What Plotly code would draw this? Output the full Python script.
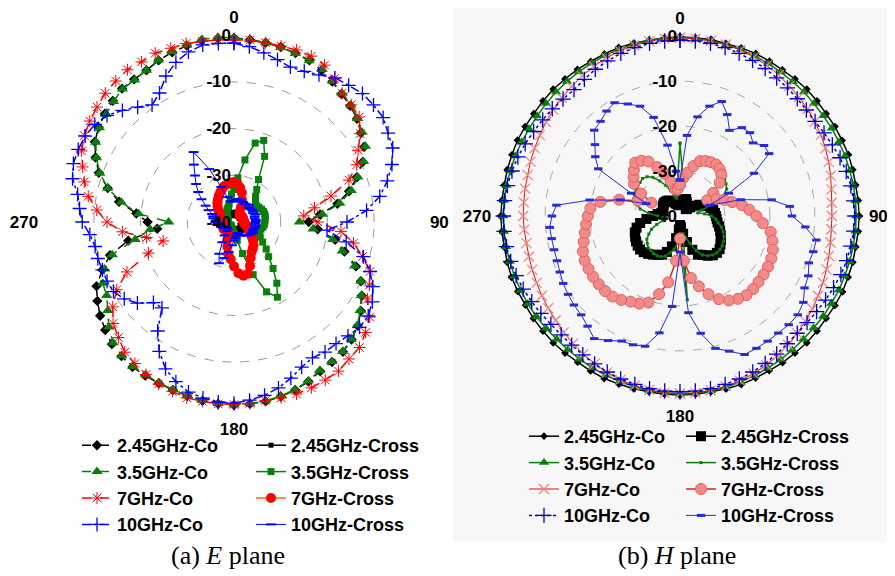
import plotly.graph_objects as go

# angles (deg) sampled every 5 degrees, 0 = top, clockwise
ANG = list(range(0, 360, 5))

# ---------------- E plane (dB) ----------------
E_co_245 = [-0.6, -0.8, -1.0, -1.2, -1.5, -1.8, -2.5, -3.3, -4.2, -4.8, -5.6, -6.8,
            -7.8, -9.6, -12.0, -14.5, -17.5, -21.5, -24.0, -22.0, -18.0, -15.5, -12.2, -10.0,
            -8.4, -6.8, -5.4, -4.4, -3.7, -3.4, -3.1, -2.3, -1.7, -1.3, -1.0, -0.9,
            -0.8, -0.9, -1.1, -1.4, -1.7, -1.9, -2.0, -2.1, -2.5, -3.0, -4.0, -5.0,
            -6.2, -7.5, -10.0, -12.5, -17.0, -23.5, -21.5, -19.0, -15.0, -12.0, -9.2, -7.3,
            -5.6, -4.6, -3.9, -3.3, -2.7, -2.7, -2.5, -1.8, -1.3, -0.9, -0.5, -0.5]
E_co_35 = [-0.5, -0.8, -1.0, -1.3, -1.6, -1.9, -2.3, -3.2, -4.0, -4.6, -5.5, -6.5,
           -7.5, -9.4, -11.8, -14.0, -17.0, -21.0, -26.0, -23.0, -18.5, -16.0, -12.5, -10.0,
           -8.5, -7.0, -5.5, -4.5, -3.8, -3.5, -3.3, -2.4, -1.8, -1.4, -1.1, -0.9,
           -0.8, -1.0, -1.2, -1.5, -1.8, -2.0, -2.2, -2.2, -2.6, -3.4, -5.0, -7.0,
           -8.5, -9.0, -10.5, -13.0, -18.5, -22.0, -26.0, -19.5, -15.5, -12.0, -9.4, -7.5,
           -5.8, -4.8, -4.2, -3.5, -2.8, -2.9, -2.5, -1.7, -1.2, -0.8, -0.3, -0.3]
E_co_7 = [-1.0, -0.9, -1.0, -1.0, -0.8, -0.8, -1.2, -2.5, -4.0, -4.5, -5.0, -7.0,
          -9.3, -11.0, -13.8, -18.5, -22.5, -25.0, -22.0, -17.0, -14.0, -11.5, -9.0, -8.0,
          -7.0, -4.5, -3.2, -2.0, -1.7, -1.0, -0.9, -0.8, -0.8, -1.0, -1.2, -1.0,
          -0.9, -0.9, -1.0, -1.0, -1.4, -1.7, -2.3, -3.0, -3.6, -5.0, -6.2, -8.3,
          -11.0, -14.7, -20.5, -24.3, -21.0, -16.0, -12.8, -10.5, -8.3, -6.8, -5.5, -4.0,
          -3.0, -2.3, -1.7, -1.0, -0.6, -0.2, -0.4, -0.1, -0.4, -0.4, -0.7, -0.9]
E_co_10 = [-1.7, -2.3, -3.2, -4.0, -4.7, -4.4, -3.6, -2.3, -1.8, -1.1, -1.0, -1.0,
           -1.9, -2.5, -4.0, -6.0, -8.3, -11.5, -15.8, -20.0, -15.6, -11.3, -9.0, -7.2,
           -5.8, -4.9, -4.9, -5.5, -6.0, -6.0, -6.4, -5.7, -4.4, -3.2, -2.3, -1.7,
           -1.2, -1.3, -1.7, -2.3, -3.6, -5.3, -8.0, -11.5, -16.0, -15.6, -13.0, -11.3,
           -10.2, -10.0, -10.0, -9.8, -9.8, -9.0, -7.5, -6.8, -6.0, -4.2, -3.4, -3.2,
           -3.2, -3.6, -4.5, -6.2, -7.9, -9.4, -8.1, -5.5, -3.6, -2.3, -1.5, -1.6]
E_x_245 = [-38.0, -38.5, -38.2, -37.8, -38.0, -38.4, -38.6, -38.2, -37.9, -38.1, -38.5, -38.7,
           -38.3, -38.0, -37.6, -37.8, -38.2, -38.5, -38.4, -38.0, -37.7, -37.9, -38.3, -38.6,
           -38.4, -38.1, -37.8, -37.5, -37.6, -38.0, -38.3, -38.5, -38.2, -37.9, -37.7, -38.0,
           -38.3, -38.6, -38.4, -38.1, -37.8, -37.6, -37.9, -38.2, -38.5, -38.7, -38.4, -38.0,
           -37.7, -37.5, -37.8, -38.1, -38.4, -38.6, -38.3, -38.0, -37.8, -37.6, -37.9, -38.2,
           -38.5, -38.7, -38.4, -38.1, -37.9, -37.7, -38.0, -38.3, -38.6, -38.4, -38.1, -37.9]
E_x_35 = [-33.0, -30.5, -26.5, -22.5, -21.4, -24.5, -29.5, -31.5, -32.8, -33.5, -34.0, -34.0,
          -33.8, -33.5, -33.3, -33.2, -33.2, -33.3, -33.4, -33.5, -33.7, -34.0, -34.2, -34.0,
          -33.5, -32.5, -31.0, -29.5, -27.0, -24.0, -21.4, -23.5, -28.0, -33.0, -36.0, -37.0,
          -37.5, -38.0, -38.2, -38.5, -38.6, -38.4, -38.8, -39.0, -38.9, -38.7, -39.0, -38.8,
          -38.6, -38.8, -38.5, -38.3, -38.6, -38.4, -38.2, -38.5, -38.7, -38.4, -38.6, -38.3,
          -38.5, -38.2, -38.0, -37.8, -37.5, -37.4, -37.0, -36.8, -36.5, -36.0, -35.0, -34.0]
E_x_7 = [-31.5, -31.8, -32.5, -33.5, -35.0, -36.5, -37.5, -37.9, -38.1, -38.0, -37.9, -38.1,
         -38.0, -37.9, -38.0, -38.1, -37.9, -38.0, -37.8, -37.9, -37.5, -37.4, -37.0, -36.6,
         -36.0, -35.5, -35.0, -34.2, -33.5, -33.0, -32.5, -31.5, -30.0, -28.5, -28.3, -29.0,
         -30.5, -32.0, -33.0, -34.5, -36.0, -37.0, -37.5, -37.6, -37.4, -37.6, -37.5, -37.3,
         -37.6, -37.5, -37.4, -37.6, -37.5, -37.3, -37.5, -37.4, -37.2, -37.0, -36.8, -36.5,
         -36.5, -36.0, -35.5, -35.0, -34.5, -34.0, -33.5, -33.0, -32.5, -32.0, -31.8, -31.5]
E_x_10 = [-35.5, -35.2, -35.0, -35.2, -35.4, -35.3, -35.5, -35.4, -35.2, -35.5, -35.6, -35.4,
          -35.3, -35.5, -35.2, -35.4, -35.5, -35.3, -35.4, -35.5, -35.3, -35.4, -35.6, -35.5,
          -35.4, -35.6, -35.8, -36.0, -36.2, -36.5, -36.8, -37.0, -37.5, -37.4, -37.0, -36.5,
          -36.0, -35.0, -33.5, -32.0, -30.6, -32.5, -35.0, -36.5, -37.5, -38.0, -38.1, -37.9,
          -37.5, -37.4, -37.0, -37.1, -36.5, -36.6, -36.0, -36.1, -35.5, -35.4, -35.0, -34.0,
          -33.0, -31.5, -30.0, -28.5, -27.0, -25.0, -22.7, -27.5, -32.0, -34.5, -35.5, -35.6]

# ---------------- H plane (dB) ----------------
H_co_245 = [-0.1, -0.2, -0.1, -0.3, -0.2, -0.1, -0.2, -0.3, -0.2, -0.1, -0.2, -0.3,
            -0.2, -0.2, -0.1, -0.2, -0.3, -0.2, -0.1, -0.2, -0.3, -0.2, -0.2, -0.1,
            -0.2, -0.3, -0.2, -0.1, -0.2, -0.2, -0.3, -0.2, -0.1, -0.2, -0.3, -0.2,
            -0.1, -0.2, -0.3, -0.2, -0.2, -0.1, -0.2, -0.3, -0.2, -0.1, -0.2, -0.2,
            -0.3, -0.2, -0.1, -0.2, -0.3, -0.2, -0.1, -0.2, -0.3, -0.2, -0.2, -0.1,
            -0.2, -0.3, -0.2, -0.1, -0.2, -0.2, -0.3, -0.2, -0.1, -0.2, -0.3, -0.2]
H_co_35 = [-0.3, -0.3, -0.4, -0.5, -0.6, -0.7, -0.8, -0.9, -1.0, -1.0, -1.1, -1.1,
           -1.0, -1.0, -0.9, -0.9, -0.8, -0.8, -0.8, -0.8, -0.9, -0.9, -1.0, -1.0,
           -1.1, -1.1, -1.2, -1.2, -1.1, -1.0, -0.9, -0.8, -0.7, -0.6, -0.5, -0.4,
           -0.4, -0.5, -0.6, -0.7, -0.8, -0.9, -1.0, -1.1, -1.2, -1.2, -1.1, -1.0,
           -0.9, -0.9, -0.8, -0.8, -0.7, -0.7, -0.7, -0.7, -0.8, -0.9, -1.0, -1.1,
           -1.2, -1.2, -1.1, -1.0, -0.9, -0.8, -0.7, -0.6, -0.5, -0.4, -0.3, -0.3]
H_co_7 = [-0.3, -0.4, -0.4, -0.5, -0.7, -1.0, -1.3, -1.7, -2.2, -2.6, -3.0, -3.4,
          -3.8, -4.3, -4.8, -5.3, -5.8, -6.1, -6.2, -6.2, -6.0, -5.7, -5.3, -4.9,
          -4.5, -4.0, -3.6, -3.1, -2.6, -2.1, -1.7, -1.3, -1.0, -0.8, -0.6, -0.5,
          -0.5, -0.5, -0.7, -0.9, -1.2, -1.6, -2.0, -2.5, -3.0, -3.4, -3.9, -4.2,
          -4.5, -4.8, -5.0, -5.2, -5.3, -5.2, -5.1, -5.1, -5.0, -4.9, -4.6, -4.3,
          -4.0, -3.6, -3.2, -2.8, -2.4, -2.0, -1.6, -1.2, -0.9, -0.7, -0.5, -0.4]
H_co_10 = [-0.9, -0.9, -1.0, -1.2, -1.5, -1.8, -2.1, -2.5, -2.8, -3.1, -3.3, -3.3,
           -3.0, -2.6, -2.1, -1.7, -1.4, -1.2, -1.1, -1.2, -1.4, -1.6, -1.9, -2.3,
           -2.6, -2.9, -3.1, -3.1, -2.9, -2.5, -2.1, -1.7, -1.4, -1.2, -1.0, -0.9,
           -0.9, -0.9, -1.0, -1.2, -1.4, -1.7, -2.0, -2.3, -2.5, -2.6, -2.5, -2.2,
           -1.9, -1.5, -1.2, -1.0, -0.8, -0.7, -0.7, -0.8, -1.0, -1.3, -1.6, -2.0,
           -2.4, -2.7, -2.9, -3.2, -3.3, -2.9, -2.3, -1.9, -1.5, -1.2, -1.0, -0.9]
H_x_245 = [-37.5, -37.0, -36.5, -36.2, -36.0, -36.5, -37.0, -37.5, -38.0, -37.8, -37.0, -36.0,
           -35.0, -34.2, -33.5, -33.0, -32.5, -32.2, -32.0, -31.8, -31.5, -31.0, -30.5, -30.0,
           -29.5, -29.0, -28.5, -28.4, -28.6, -29.2, -30.0, -30.5, -32.0, -34.0, -36.0, -37.5,
           -38.0, -37.0, -35.0, -33.0, -31.5, -30.5, -30.0, -29.5, -29.0, -28.6, -28.4, -28.5,
           -28.7, -29.0, -29.3, -30.0, -31.0, -32.5, -34.0, -35.0, -35.8, -36.2, -36.0, -35.8,
           -35.6, -35.5, -35.4, -35.5, -35.6, -35.8, -36.2, -36.5, -37.0, -37.2, -37.5, -37.6]
H_x_35 = [-23.8, -32.0, -31.0, -29.0, -28.0, -27.0, -26.3, -25.8, -25.8, -26.0, -27.0, -27.5,
          -28.0, -29.5, -32.0, -35.0, -36.0, -34.5, -33.0, -32.0, -31.4, -30.5, -29.8, -29.2,
          -28.8, -28.5, -28.4, -28.4, -28.7, -29.2, -30.0, -31.5, -33.5, -35.0, -36.0, -21.3,
          -36.0, -34.0, -32.5, -31.5, -30.5, -30.0, -29.8, -29.8, -30.0, -30.0, -30.5, -31.0,
          -32.0, -33.0, -34.5, -36.0, -37.0, -36.5, -35.0, -33.0, -31.0, -30.0, -29.0, -28.9,
          -28.7, -28.5, -28.4, -28.2, -28.6, -29.5, -31.0, -32.5, -34.0, -35.5, -36.0, -33.0]
H_x_7 = [-33.0, -31.5, -30.2, -28.5, -27.0, -26.5, -26.2, -26.0, -26.3, -27.0, -28.5, -31.0,
         -33.0, -31.0, -29.5, -28.0, -26.0, -24.5, -23.0, -21.5, -19.5, -18.7, -18.0, -17.6,
         -17.4, -17.3, -17.2, -17.0, -17.0, -17.5, -18.3, -19.6, -21.5, -23.8, -26.0, -30.0,
         -35.0, -30.0, -25.0, -22.0, -19.5, -18.5, -18.0, -17.2, -16.6, -16.4, -16.4, -16.4,
         -16.5, -16.6, -17.0, -17.8, -18.5, -19.0, -19.5, -20.0, -22.0, -26.0, -30.0, -33.0,
         -30.0, -27.5, -26.5, -25.5, -24.5, -25.0, -26.0, -28.0, -30.0, -32.0, -34.0, -34.0]
H_x_10 = [-32.0, -22.0, -17.6, -14.7, -12.9, -15.1, -18.0, -16.0, -15.8, -17.0, -15.6, -15.8,
          -21.0, -28.0, -33.0, -26.0, -19.3, -15.5, -15.1, -12.0, -9.2, -9.3, -9.5, -8.5,
          -8.0, -6.5, -5.8, -5.8, -6.0, -6.0, -6.0, -6.0, -8.0, -9.5, -13.5, -18.4,
          -32.0, -19.8, -13.6, -10.0, -9.5, -9.3, -8.0, -6.7, -8.0, -8.9, -9.2, -9.6,
          -10.0, -10.5, -10.9, -11.0, -11.0, -10.9, -11.5, -12.4, -19.6, -26.2, -32.0, -28.0,
          -19.0, -17.0, -15.3, -13.0, -12.5, -11.5, -10.9, -12.5, -14.0, -17.3, -24.0, -30.0]

NAMES_CO = ["2.45GHz-Co", "3.5GHz-Co", "7GHz-Co", "10GHz-Co"]
NAMES_X = ["2.45GHz-Cross", "3.5GHz-Cross", "7GHz-Cross", "10GHz-Cross"]
RADIAL_TICKS = [-40, -30, -20, -10, 0]
RADIAL_TEXT = ["-40", "-30", "-20", "-10", "0"]
ANG_TICKS = [0, 90, 180, 270]
ANG_TEXT = ["0", "90", "180", "270"]

E_CO = [E_co_245, E_co_35, E_co_7, E_co_10]
E_X = [E_x_245, E_x_35, E_x_7, E_x_10]
H_CO = [H_co_245, H_co_35, H_co_7, H_co_10]
H_X = [H_x_245, H_x_35, H_x_7, H_x_10]

GREEN = "#0b7f0b"

E_CO_STYLE = [
    dict(line=dict(color="black", dash="dash", width=1.5), marker=dict(symbol="diamond", size=8, color="black")),
    dict(line=dict(color=GREEN, dash="dash", width=1.5), marker=dict(symbol="triangle-up", size=10, color=GREEN)),
    dict(line=dict(color="red", dash="dash", width=1.5),
         marker=dict(symbol="asterisk-open", size=10, color="red", line=dict(color="red", width=1))),
    dict(line=dict(color="blue", dash="dashdot", width=1.5),
         marker=dict(symbol="cross-thin-open", size=10, color="blue", line=dict(color="blue", width=1.3))),
]
E_X_STYLE = [
    dict(line=dict(color="black", width=1.5), marker=dict(symbol="square", size=5, color="black")),
    dict(line=dict(color=GREEN, width=1.5), marker=dict(symbol="square", size=7, color=GREEN)),
    dict(line=dict(color="#ff6a00", width=1.5), marker=dict(symbol="circle", size=10, color="red")),
    dict(line=dict(color="blue", width=1),
         marker=dict(symbol="line-ew-open", size=7, color="blue", line=dict(color="blue", width=2))),
]
H_CO_STYLE = [
    dict(line=dict(color="black", width=1.5), marker=dict(symbol="diamond", size=6, color="black")),
    dict(line=dict(color=GREEN, width=1.5), marker=dict(symbol="triangle-up", size=9, color=GREEN)),
    dict(line=dict(color="#e01010", width=1),
         marker=dict(symbol="x-thin-open", size=10, color="#f08080", line=dict(color="#f08080", width=1.2))),
    dict(line=dict(color="#0000cc", dash="dot", width=1.5),
         marker=dict(symbol="cross-thin-open", size=11, color="#0000cc", line=dict(color="#0000cc", width=1.3))),
]
H_X_STYLE = [
    dict(line=dict(color="black", width=1.5), marker=dict(symbol="square", size=10, color="black")),
    dict(line=dict(color=GREEN, width=1.5), marker=dict(symbol="square", size=3, color=GREEN)),
    dict(line=dict(color="#e02020", width=1.5),
         marker=dict(symbol="circle", size=11, color="#f28a8a", line=dict(color="#e06060", width=1))),
    dict(line=dict(color="#2a2ad0", width=1),
         marker=dict(symbol="line-ew-open", size=6, color="#2a2ad0", line=dict(color="#2a2ad0", width=3))),
]

fig = go.Figure()


def add(vals, name, style, subplot, legend):
    fig.add_trace(go.Scatterpolar(
        r=vals + vals[:1], theta=ANG + [360], name=name, mode="lines+markers",
        subplot=subplot, legend=legend, line=style["line"], marker=style["marker"],
    ))


for i in range(4):
    add(E_CO[i], NAMES_CO[i], E_CO_STYLE[i], "polar", "legend")
    add(E_X[i], NAMES_X[i], E_X_STYLE[i], "polar", "legend2")
for i in range(4):
    add(H_CO[i], NAMES_CO[i], H_CO_STYLE[i], "polar2", "legend3")
    add(H_X[i], NAMES_X[i], H_X_STYLE[i], "polar2", "legend4")

SANS = "Liberation Sans, Arial, sans-serif"
SERIF = "Liberation Serif, Times New Roman, serif"
tickfont = dict(family=SANS, size=17, color="black", weight="bold")

# the page body adds an 8 px offset; the figure is sized so that it ends at the window edge
OFF = 8
W, H = 895 - OFF, 576 - OFF


def fx(px):  # window pixel -> paper x
    return (px - OFF) / W


def fy(py):  # window pixel -> paper y
    return 1 - (py - OFF) / H


def polar_cfg(left, right, top, bottom, bg, grid):
    return dict(
        domain=dict(x=[fx(left), fx(right)], y=[fy(bottom), fy(top)]),
        bgcolor=bg,
        radialaxis=dict(range=[-40, 0.05], tickvals=RADIAL_TICKS, ticktext=RADIAL_TEXT,
                        angle=90, side="counterclockwise", tickangle=90, showline=False, ticks="",
                        gridcolor=grid, griddash="dash", gridwidth=1, tickfont=tickfont),
        angularaxis=dict(rotation=90, direction="clockwise", tickvals=ANG_TICKS, ticktext=ANG_TEXT,
                         showgrid=False, showline=False, ticks="outside", ticklen=5,
                         tickcolor="rgba(0,0,0,0)", tickfont=tickfont),
    )


fig.update_layout(
    width=W, height=H, margin=dict(l=0, r=0, t=0, b=0, autoexpand=False),
    paper_bgcolor="white", plot_bgcolor="white",
    polar=polar_cfg(47, 421, 35, 409, "white", "#9a9a9a"),
    polar2=polar_cfg(500, 860, 36, 396, "#f7f7f7", "#a8a8a8"),
    shapes=[dict(type="rect", xref="paper", yref="paper", x0=fx(453), x1=1, y0=fy(542), y1=1,
                 fillcolor="#f7f7f7", line=dict(width=0), layer="below")],
)

legfont = dict(family=SANS, size=18, color="black", weight="bold")
common = dict(xanchor="left", yanchor="top", bgcolor="rgba(0,0,0,0)", borderwidth=0,
              font=legfont, itemwidth=30, tracegroupgap=0)
fig.update_layout(
    legend=dict(x=fx(77), y=fy(427), **common),
    legend2=dict(x=fx(251), y=fy(427), **common),
    legend3=dict(x=fx(524), y=fy(418), **common),
    legend4=dict(x=fx(681), y=fy(418), **common),
)

capfont = dict(family=SERIF, size=26, color="black")
fig.add_annotation(text="(a) <i>E</i> plane", x=fx(228), y=fy(555), xref="paper", yref="paper",
                   xanchor="center", yanchor="middle", showarrow=False, font=capfont)
fig.add_annotation(text="(b) <i>H</i> plane", x=fx(677), y=fy(555), xref="paper", yref="paper",
                   xanchor="center", yanchor="middle", showarrow=False, font=capfont)

fig.write_html("out.html")
